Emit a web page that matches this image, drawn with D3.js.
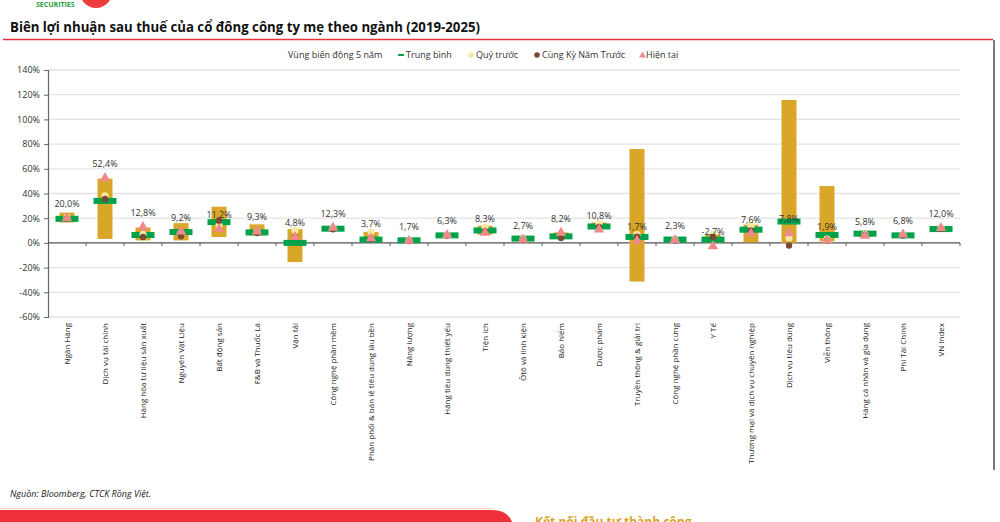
<!DOCTYPE html>
<html>
<head>
<meta charset="utf-8">
<script src="https://cdn.jsdelivr.net/npm/d3@7"></script>
<style>
  body { margin: 0; background: #fff; }
  svg { display: block; font-family: "Open Sans", "Noto Sans", sans-serif; }
</style>
</head>
<body>
<svg width="1000" height="522"></svg>
<script>
var width = 1000;
var height = 522;

// categories (x axis)
var categories = ["Ngân Hàng", "Dịch vụ tài chính", "Hàng hóa tư liệu sản xuất", "Nguyên Vật Liệu",
  "Bất động sản", "F&B và Thuốc Lá", "Vận tải", "Công nghệ phần mềm",
  "Phân phối & bán lẻ tiêu dùng lâu bền", "Năng lượng", "Hàng tiêu dùng thiết yếu", "Tiện ích",
  "Ôtô và linh kiện", "Bảo hiểm", "Dược phẩm", "Truyền thông & giải trí",
  "Công nghệ phần cứng", "Y Tế", "Thương mại và dịch vụ chuyên nghiệp", "Dịch vụ tiêu dùng",
  "Viễn thông", "Hàng cá nhân và gia dụng", "Phi Tài Chính", "VN Index"];

// 5-year range (min / max), %
var minVals = [16.5, 3.2, 2.0, 2.0, 4.8, 5.9, -15.5, 10.5, 1.3, 0.5, 4.5, 6.7,
  1.5, 4.0, 11.2, -31.3, 1.0, 0.5, 0.5, 0.0, 1.3, 5.0, 5.0, 10.0];
var maxVals = [24.5, 52.0, 12.5, 16.0, 29.3, 15.0, 11.2, 12.5, 8.8, 3.0, 7.0, 13.9,
  4.5, 8.5, 16.5, 76.0, 4.0, 7.0, 14.7, 115.8, 46.0, 9.0, 8.0, 13.0];
// Trung bình
var avgVals = [19.5, 34.0, 6.4, 8.8, 16.8, 8.5, 0.0, 11.5, 2.7, 2.1, 6.1, 10.1,
  3.5, 5.3, 13.3, 4.8, 2.7, 2.7, 10.7, 17.3, 6.4, 7.5, 6.1, 11.2];
// Quý trước
var prevQVals = [20.5, 38.0, 7.0, 8.0, 14.0, 9.0, 10.0, 12.0, 9.0, 2.0, 6.5, 12.8,
  3.0, 7.0, 16.0, 6.7, 2.5, 7.0, 14.0, 4.0, 3.0, 7.0, 6.5, 12.0];
// Cùng Kỳ Năm Trước
var yoyVals = [19.8, 35.5, 4.8, 5.3, 17.9, 8.0, 5.0, 11.0, 3.0, 1.5, 6.0, 9.5,
  2.5, 4.0, 13.0, 5.0, 2.0, 4.8, 10.0, -2.1, 2.0, 6.5, 6.0, 11.5];
// Hiện tại
var currentVals = [20.0, 52.4, 12.8, 9.2, 11.2, 9.3, 4.8, 12.3, 3.7, 1.7, 6.3, 8.3,
  2.7, 8.2, 10.8, 1.7, 2.3, -2.7, 7.6, 7.8, 1.9, 5.8, 6.8, 12.0];

var yTicks = [-60, -40, -20, 0, 20, 40, 60, 80, 100, 120, 140];

var rows = categories.map(function(c, i){
  return {cat: c, min: minVals[i], max: maxVals[i], avg: avgVals[i],
    prevQ: prevQVals[i], yoy: yoyVals[i], cur: currentVals[i]};
});

var svg = d3.select("svg").attr("width", width).attr("height", height);

var x = d3.scaleBand().domain(categories).range([48, 960]).padding(0);
var y = d3.scaleLinear().domain([-60, 140]).range([317, 70]);

var colBar = "#DAA628", colAvg = "#00A14B", colPrev = "#F6E9A6", colYoy = "#7A4A36", colCur = "#F08A8A";

// header bits
svg.append("circle").attr("cx", 96).attr("cy", -8).attr("r", 16).attr("fill", "#EE3B3B");
svg.append("circle").attr("cx", 92).attr("cy", -10).attr("r", 9).attr("fill", "#F7A23B").attr("opacity", 0.8);
svg.append("text").attr("x", 36).attr("y", 7).attr("font-size", 7).attr("font-weight", 700)
  .attr("fill", "#2E9B47").text("SECURITIES");

svg.append("text").attr("x", 10).attr("y", 32)
  .attr("font-size", 15).attr("font-weight", 700).attr("fill", "#111")
  .attr("textLength", 470).attr("lengthAdjust", "spacingAndGlyphs")
  .text("Biên lợi nhuận sau thuế của cổ đông công ty mẹ theo ngành (2019-2025)");
svg.append("line").attr("x1", 3).attr("x2", 993).attr("y1", 39.5).attr("y2", 39.5)
  .attr("stroke", "#E8343C").attr("stroke-width", 1.3);
svg.append("line").attr("x1", 994).attr("x2", 994).attr("y1", 40).attr("y2", 470)
  .attr("stroke", "#222").attr("stroke-width", 1.2);

// legend
var legend = svg.append("g").attr("font-size", 9).attr("fill", "#333");
legend.append("text").attr("x", 288).attr("y", 58).text("Vùng biến động 5 năm");
legend.append("rect").attr("x", 398).attr("y", 54).attr("width", 6).attr("height", 2).attr("fill", colAvg);
legend.append("text").attr("x", 406).attr("y", 58).text("Trung bình");
legend.append("circle").attr("cx", 471).attr("cy", 55).attr("r", 2.8).attr("fill", colPrev);
legend.append("text").attr("x", 476).attr("y", 58).text("Quý trước");
legend.append("circle").attr("cx", 537).attr("cy", 55).attr("r", 2.8).attr("fill", colYoy);
legend.append("text").attr("x", 542).attr("y", 58).text("Cùng Kỳ Năm Trước");
legend.append("path").attr("d", d3.symbol(d3.symbolTriangle, 22)())
  .attr("transform", "translate(642.5,55.5)").attr("fill", colCur);
legend.append("text").attr("x", 646).attr("y", 58).text("Hiện tại");

// grid
svg.append("g").selectAll("line").data(yTicks.filter(function(d){ return d !== 0; }))
  .enter().append("line")
  .attr("x1", 48).attr("x2", 960)
  .attr("y1", function(d){ return y(d); }).attr("y2", function(d){ return y(d); })
  .attr("stroke", "#E3E3E3").attr("stroke-width", 1.3);

// y axis
var yAxis = d3.axisLeft(y).tickValues(yTicks).tickSize(4).tickPadding(4)
  .tickFormat(function(d){ return d + "%"; });
var gy = svg.append("g").attr("transform", "translate(48,0)").call(yAxis);
gy.select(".domain").attr("stroke", "#666").attr("stroke-width", 1.2);
gy.selectAll(".tick line").attr("stroke", "#666");
gy.selectAll(".tick text").attr("font-size", 9).attr("fill", "#333")
  .attr("font-family", "Open Sans, sans-serif");

// x axis at zero
var gx = svg.append("g").attr("transform", "translate(0," + y(0) + ")");
gx.append("line").attr("x1", 48).attr("x2", 960).attr("stroke", "#555").attr("stroke-width", 1.3);
gx.selectAll("line.tk").data(categories.slice(1).concat(["__end"]))
  .enter().append("line").attr("class", "tk")
  .attr("x1", function(d, i){ return 48 + (i + 1) * x.bandwidth(); })
  .attr("x2", function(d, i){ return 48 + (i + 1) * x.bandwidth(); })
  .attr("y1", 0).attr("y2", 3).attr("stroke", "#555");

// category labels
svg.append("g").selectAll("text").data(categories).enter().append("text")
  .attr("transform", function(d){
    return "translate(" + (x(d) + x.bandwidth() / 2 + 3) + ",323) rotate(-90)";
  })
  .attr("text-anchor", "end").attr("font-size", 8).attr("fill", "#222")
  .text(function(d){ return d; });

// marks
var g = svg.append("g");
var bw = 15;
g.selectAll("rect.range").data(rows).enter().append("rect").attr("class", "range")
  .attr("x", function(d){ return x(d.cat) + x.bandwidth() / 2 - bw / 2; })
  .attr("y", function(d){ return y(d.max); })
  .attr("width", bw)
  .attr("height", function(d){ return y(d.min) - y(d.max); })
  .attr("fill", colBar);

g.selectAll("rect.avg").data(rows).enter().append("rect").attr("class", "avg")
  .attr("x", function(d){ return x(d.cat) + x.bandwidth() / 2 - 11.5; })
  .attr("y", function(d){ return y(d.avg) - 3; })
  .attr("width", 23).attr("height", 6)
  .attr("fill", colAvg);

g.selectAll("circle.prev").data(rows).enter().append("circle").attr("class", "prev")
  .attr("cx", function(d){ return x(d.cat) + x.bandwidth() / 2; })
  .attr("cy", function(d){ return y(d.prevQ); })
  .attr("r", 3.6).attr("fill", colPrev);

g.selectAll("circle.yoy").data(rows).enter().append("circle").attr("class", "yoy")
  .attr("cx", function(d){ return x(d.cat) + x.bandwidth() / 2; })
  .attr("cy", function(d){ return y(d.yoy); })
  .attr("r", 3.2).attr("fill", colYoy);

g.selectAll("path.cur").data(rows).enter().append("path").attr("class", "cur")
  .attr("d", d3.symbol(d3.symbolTriangle, 48)())
  .attr("transform", function(d){
    return "translate(" + (x(d.cat) + x.bandwidth() / 2) + "," + y(d.cur) + ")";
  })
  .attr("fill", colCur);

g.selectAll("text.lbl").data(rows).enter().append("text").attr("class", "lbl")
  .attr("x", function(d){ return x(d.cat) + x.bandwidth() / 2; })
  .attr("y", function(d){ return y(d.cur) - 11; })
  .attr("text-anchor", "middle").attr("font-size", 9).attr("fill", "#333")
  .text(function(d){ return d.cur.toFixed(1).replace(".", ",") + "%"; });

// footer
svg.append("text").attr("x", 10).attr("y", 497).attr("font-size", 9).attr("font-style", "italic")
  .attr("fill", "#222").text("Nguồn: Bloomberg, CTCK Rồng Việt.");
svg.append("line").attr("x1", 0).attr("x2", 492).attr("y1", 508.5).attr("y2", 508.5)
  .attr("stroke", "#F3DDB8").attr("stroke-width", 1);
svg.append("path").attr("d", "M0,510 H492 Q512,510 514,530 V540 H0 Z").attr("fill", "#EE3138");
svg.append("text").attr("x", 535).attr("y", 526).attr("font-size", 12).attr("font-weight", 700)
  .attr("fill", "#D9A62A").text("Kết nối đầu tư thành công");
</script>
</body>
</html>
